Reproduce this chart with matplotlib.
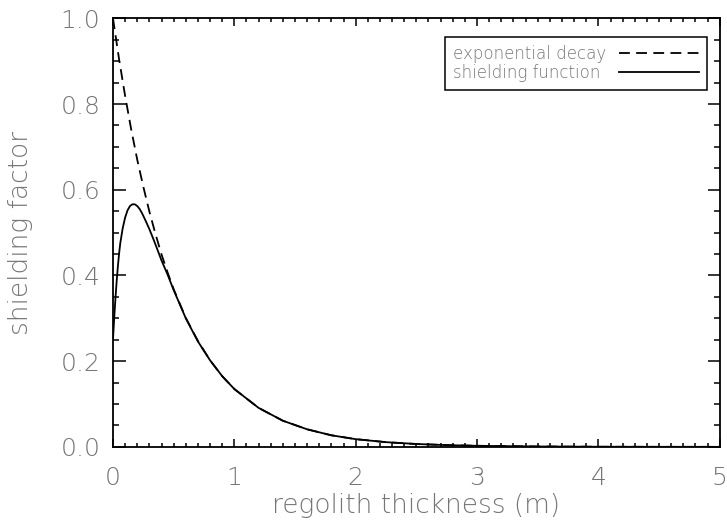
import matplotlib
matplotlib.use("Agg")
import matplotlib.pyplot as plt
from matplotlib.ticker import MultipleLocator

# valores
x_exp = [0.0, 0.05, 0.1, 0.15, 0.2, 0.25, 0.3, 0.35, 0.4, 0.45, 0.5,
         0.6, 0.7, 0.8, 0.9, 1.0, 1.2, 1.4, 1.6, 1.8, 2.0,
         2.25, 2.5, 2.75, 3.0, 3.5, 4.0, 4.5, 5.0]
y_exp = [1.000, 0.905, 0.819, 0.741, 0.670, 0.607, 0.549, 0.497, 0.449, 0.407, 0.368,
         0.301, 0.247, 0.202, 0.165, 0.135, 0.091, 0.061, 0.041, 0.027, 0.018,
         0.011, 0.0067, 0.0041, 0.0025, 0.0009, 0.0003, 0.0001, 0.00005]

x_shield = [0.0, 0.01, 0.02, 0.03, 0.04, 0.05, 0.06, 0.08, 0.10, 0.12, 0.14,
            0.16, 0.18, 0.20, 0.22, 0.24, 0.27, 0.30, 0.33, 0.36, 0.40, 0.45, 0.50,
            0.6, 0.7, 0.8, 0.9, 1.0, 1.2, 1.4, 1.6, 1.8, 2.0,
            2.25, 2.5, 2.75, 3.0, 3.5, 4.0, 4.5, 5.0]
y_shield = [0.25, 0.30, 0.345, 0.385, 0.42, 0.45, 0.475, 0.51, 0.535, 0.552, 0.562,
            0.566, 0.566, 0.562, 0.555, 0.545, 0.527, 0.508, 0.487, 0.465, 0.435, 0.402, 0.366,
            0.300, 0.246, 0.202, 0.165, 0.135, 0.091, 0.061, 0.041, 0.027, 0.018,
            0.011, 0.0067, 0.0041, 0.0025, 0.0009, 0.0003, 0.0001, 0.00005]

cor_texto = '#757575'
plt.rcParams['font.weight'] = 'light'

fig = plt.figure(figsize=(7.27, 5.32), dpi=100)
ax = fig.add_axes([0.1554, 0.160, 0.8346, 0.8056])

linha_exp, = ax.plot(x_exp, y_exp, color='black', lw=1.3, label='exponential decay')
linha_exp.set_dashes((6, 3.5))
ax.plot(x_shield, y_shield, color='black', lw=1.3, label='shielding function')

ax.set_xlim(0, 5)
ax.set_ylim(0, 1.0)

ax.xaxis.set_major_locator(MultipleLocator(1))
ax.xaxis.set_minor_locator(MultipleLocator(0.1))
ax.yaxis.set_minor_locator(MultipleLocator(0.05))
ax.set_yticks([0.0, 0.2, 0.4, 0.6, 0.8, 1.0])
ax.set_yticklabels(['0.0', '0.2', '0.4', '0.6', '0.8', '1.0'])

ax.tick_params(axis='both', which='both', direction='in', top=True, right=True,
               colors='black', labelcolor=cor_texto, labelsize=18, width=1.1)
ax.tick_params(axis='y', which='major', length=9, pad=9)
ax.tick_params(axis='y', which='minor', length=4.5)
ax.tick_params(axis='x', which='major', length=6, pad=14)
ax.tick_params(axis='x', which='minor', length=3)

for lado in ax.spines.values():
    lado.set_linewidth(1.3)

ax.set_xlabel('regolith thickness (m)', fontsize=19, fontweight='light',
              color=cor_texto, labelpad=2)
ax.set_ylabel('shielding factor', fontsize=19, fontweight='light',
              color=cor_texto, labelpad=20)

leg = ax.legend(loc='upper right', bbox_to_anchor=(0.9786, 0.9563), borderaxespad=0,
                fontsize=12, markerfirst=False, handlelength=4.8, fancybox=False,
                framealpha=1, edgecolor='black', labelspacing=0.1,
                borderpad=0.45, handletextpad=0.8)
leg.get_frame().set_linewidth(1.1)
for t in leg.get_texts():
    t.set_color(cor_texto)

# textos alinhados à esquerda e linhas começando no mesmo x
fig.canvas.draw()
r = fig.canvas.get_renderer()
coluna = leg._legend_handle_box.get_children()[0]
coluna.align = 'left'
larguras = [t.get_window_extent(r).width for t in leg.get_texts()]
for item, w in zip(coluna.get_children(), larguras):
    item.sep += (max(larguras) - w) * 72 / fig.dpi

fig.savefig('out.png', dpi=100)
